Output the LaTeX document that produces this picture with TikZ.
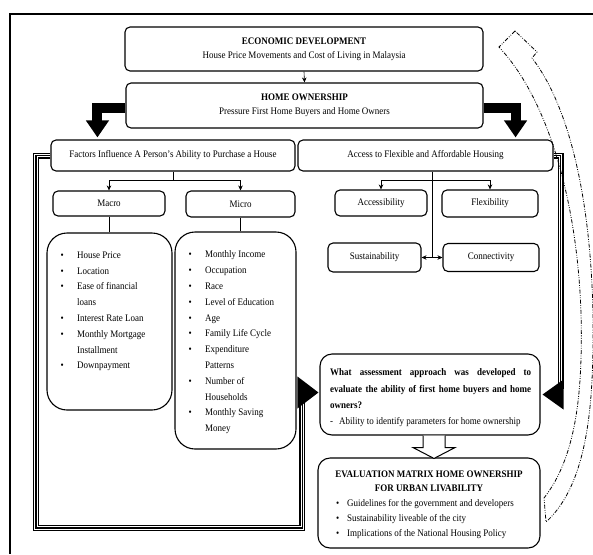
\documentclass[tikz,border=0pt]{standalone}
\usepackage{fontspec}
\setmainfont{Liberation Serif}[FakeStretch=0.9]
\usetikzlibrary{arrows.meta,calc}
\newcommand\bul{\makebox[16.5pt][l]{\textbullet}}
\newcommand\ind{\hspace*{16.5pt}}
\newcommand\sbul{\makebox[11pt][l]{\textbullet}}
\begin{document}
\begin{tikzpicture}[x=1pt,y=-1pt,
  font=\fontsize{10}{14}\selectfont,
  box/.style={draw, line width=1.1pt, rounded corners=5pt, inner sep=0pt, align=center},
  bigbox/.style={draw, line width=1.1pt, rounded corners=20pt, inner sep=0pt},
  conn/.style={line width=0.6pt, -{Stealth[length=5pt,width=4.5pt]}},
  plainline/.style={line width=0.6pt},
  thickarrow/.style={line width=10pt, -{Triangle[length=17pt,width=22pt]}},
  triple/.style={line width=6pt, postaction={draw=white,line width=3.6pt}, postaction={draw=black,line width=1.2pt}},
  dashdot/.style={line width=0.8pt, dash pattern=on 4pt off 1.5pt on 0.8pt off 1.5pt on 0.8pt off 1.5pt}]
\useasboundingbox (0,0) rectangle (593,554);
\draw[line width=1.3pt] (593,14) -- (10,14) -- (10,554);

% top boxes
\node[box, minimum width=358pt, minimum height=44pt] (econ) at (304,49)
  {\textbf{ECONOMIC DEVELOPMENT}\\House Price Movements and Cost of Living in Malaysia};
\node[box, minimum width=357pt, minimum height=45pt] (home) at (304.5,105.5)
  {\textbf{HOME OWNERSHIP}\\Pressure First Home Buyers and Home Owners};
\draw[conn] (econ.south) -- (home.north);

\node[box, minimum width=244pt, minimum height=31pt] (factors) at (173,155.5)
  {Factors Influence A Person’s Ability to Purchase a House};
\node[box, minimum width=255pt, minimum height=31pt] (access) at (425.5,155.5)
  {Access to Flexible and Affordable Housing};

\draw[thickarrow] ($(home.west)+(0,2)$) -| ($(factors.north west)+(47,-2)$);
\draw[thickarrow] ($(home.east)+(0,2)$) -| ($(access.north east)+(-38,-2)$);

% left branch
\node[box, minimum width=112pt, minimum height=25pt] (macro) at (109,203.5) {Macro};
\node[box, minimum width=109pt, minimum height=26pt] (micro) at (240.5,204) {Micro};
\draw[plainline] (factors.south) -- ++(0,9) coordinate (fj);
\draw[conn] (fj) -| (macro.north);
\draw[conn] (fj) -| (micro.north);

\node[bigbox, minimum width=125pt, minimum height=177pt] (macrolist) at (109.5,321.5) {};
\node[bigbox, minimum width=121pt, minimum height=217pt] (microlist) at (235.5,340.5) {};
\draw[plainline] (macro.south) -- (macro.south |- macrolist.north);
\draw[plainline] (micro.south) -- (micro.south |- microlist.north);

\node[anchor=north west, inner sep=0pt, align=left, font=\fontsize{10}{15.8}\selectfont] (macrotext) at (60.5,251.5)
  {\bul House Price\\ \bul Location\\ \bul Ease of financial\\ \ind loans\\ \bul Interest Rate Loan\\
   \bul Monthly Mortgage\\ \ind Installment\\ \bul Downpayment};
\node[anchor=north west, inner sep=0pt, align=left, font=\fontsize{10}{15.8}\selectfont] (microtext) at (188.5,250.7)
  {\bul Monthly Income\\ \bul Occupation\\ \bul Race\\ \bul Level of Education\\ \bul Age\\
   \bul Family Life Cycle\\ \bul Expenditure\\ \ind Patterns\\ \bul Number of\\ \ind Households\\
   \bul Monthly Saving\\ \ind Money};

% right branch
\node[box, minimum width=92pt, minimum height=26pt] (accessib) at (381,203) {Accessibility};
\node[box, minimum width=96pt, minimum height=27pt] (flex) at (490,203.5) {Flexibility};
\node[box, minimum width=93pt, minimum height=29pt] (sustain) at (374.5,257.5) {Sustainability};
\node[box, minimum width=96pt, minimum height=28pt] (connect) at (491,257.5) {Connectivity};
\coordinate (mid) at ($(sustain.east)!0.5!(connect.west)$);
\draw[plainline] (mid |- access.south) -- (mid);
\coordinate (aj) at ($(mid |- access.south)+(0,9)$);
\draw[conn] (aj) -| (accessib.north);
\draw[conn] (aj) -| (flex.north);
\draw[line width=0.6pt, {Stealth[length=5pt,width=4.5pt]}-{Stealth[length=5pt,width=4.5pt]}] (sustain.east) -- (connect.west);

% question and evaluation
\node[box, rounded corners=12pt, minimum width=220pt, minimum height=81pt] (question) at (430,394.5) {};
\node[anchor=north west, inner sep=0pt, align=left, font=\fontsize{10}{16.3}\selectfont] (qtext) at (330,368.7)
  {\makebox[201pt][s]{\textbf{What assessment approach was developed to}}\\
   \makebox[201pt][s]{\textbf{evaluate the ability of first home buyers and home}}\\
   \textbf{owners?}\\
   -\hspace{6pt}Ability to identify parameters for home ownership};

\node[box, rounded corners=12pt, minimum width=222pt, minimum height=90pt] (eval) at (429,503) {};
\node[anchor=north, inner sep=0pt, align=center, font=\fontsize{10}{14}\selectfont] (etitle) at (429,470.4)
  {\textbf{EVALUATION MATRIX HOME OWNERSHIP}\\ \textbf{FOR URBAN LIVABILITY}};
\node[anchor=north west, inner sep=0pt, align=left, font=\fontsize{10}{15}\selectfont] (etext) at (336,499.5)
  {\sbul Guidelines for the government and developers\\ \sbul Sustainability liveable of the city\\
   \sbul Implications of the National Housing Policy};

% hollow arrow
\draw[line width=1pt, fill=white] ($(question.south)+(-7,0)$) -- ++(0,12) -- ++(-10,0)
  -- ($(eval.north)+(5,1)$) -- ($(question.south)+(25,12)$) -- ++(-10,0) -- ($(question.south)+(15,0)$);

% triple connectors
\draw[triple] (factors.west) -| (36,528) -| ($(question.west)+(-17,-4)$);
\fill ($(question.west)+(-1,-2)$) -- ++(-21,-16) -- ++(0,32) -- cycle;
\draw[triple] (access.east) -| ($(question.east)+(20,-6)$);
\fill ($(question.east)+(2,0)$) -- ++(21,-15) -- ++(0,30) -- cycle;

% dash-dot curved feedback arrow
\draw[dashdot] (515,31) -- (499,47) -- (506,55)
  .. controls (560,120) and (588,250) .. (580,380)
  .. controls (576,440) and (562,475) .. (544,498)
  -- (546,522)
  .. controls (570,500) and (588,460) .. (592,380)
  .. controls (598,250) and (580,120) .. (532,58)
  -- (537,52) -- cycle;
\end{tikzpicture}
\end{document}
